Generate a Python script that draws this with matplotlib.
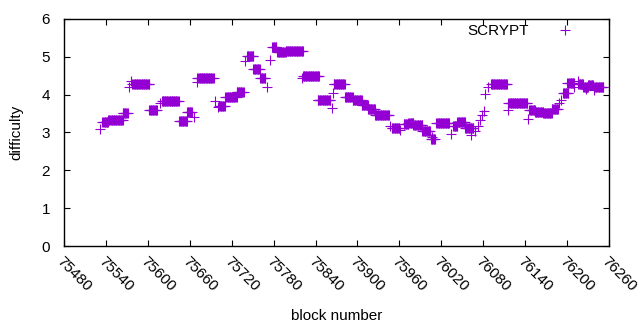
import matplotlib.pyplot as plt
import numpy as np

# constant-difficulty runs: first block, last block, difficulty
seg_start = [75532, 75535, 75543, 75564, 75573, 75576, 75578, 75602, 75617, 75620,
             75645, 75656, 75666, 75670, 75671, 75696, 75701, 75702, 75711, 75727,
             75739, 75742, 75751, 75761, 75771, 75775, 75778, 75785, 75797, 75820,
             75822, 75843, 75863, 75865, 75866, 75882, 75893, 75906, 75915, 75925,
             75947, 75949, 75961, 75966, 75973, 75980, 75993, 76005, 76007, 76013,
             76034, 76037, 76043, 76054, 76063, 76068, 76072, 76076, 76078, 76081,
             76083, 76087, 76091, 76115, 76116, 76144, 76146, 76154, 76166, 76178,
             76189, 76191, 76194, 76200, 76202, 76210, 76215, 76216, 76223, 76227,
             76230, 76238, 76239]
seg_end = [75532, 75543, 75564, 75571, 75573, 75576, 75602, 75613, 75617, 75644,
           75656, 75663, 75666, 75670, 75694, 75696, 75701, 75710, 75727, 75737,
           75739, 75751, 75760, 75768, 75771, 75775, 75784, 75797, 75822, 75820,
           75845, 75861, 75863, 75865, 75882, 75893, 75906, 75915, 75925, 75945,
           75947, 75960, 75961, 75973, 75980, 75993, 76004, 76011, 76007, 76031,
           76034, 76043, 76054, 76066, 76063, 76068, 76072, 76076, 76078, 76081,
           76083, 76087, 76114, 76115, 76143, 76144, 76154, 76166, 76178, 76187,
           76189, 76191, 76202, 76200, 76210, 76210, 76215, 76223, 76230, 76227,
           76237, 76238, 76252]
seg_value = [3.08, 3.27, 3.32, 3.51, 4.19, 4.37, 4.27, 3.59, 3.77, 3.82,
             3.30, 3.53, 3.40, 4.33, 4.43, 3.83, 3.67, 3.71, 3.93, 4.08,
             4.88, 5.01, 4.67, 4.43, 4.19, 4.91, 5.25, 5.12, 5.15, 4.45,
             4.49, 3.85, 3.64, 4.04, 4.27, 3.94, 3.85, 3.72, 3.61, 3.45,
             3.17, 3.11, 3.07, 3.22, 3.24, 3.19, 3.03, 2.82, 2.87, 3.24,
             2.96, 3.18, 3.27, 3.11, 2.93, 3.05, 3.17, 3.33, 3.46, 3.57,
             4.01, 4.19, 4.27, 3.60, 3.77, 3.36, 3.60, 3.53, 3.51, 3.63,
             3.79, 3.85, 4.04, 4.30, 4.30, 4.19, 4.37, 4.28, 4.19, 4.14,
             4.26, 4.11, 4.21]

x_ticks = list(range(75480, 76261, 60))

blocks = np.concatenate([np.arange(s, e + 1) for s, e in zip(seg_start, seg_end)])
values = np.concatenate([np.full(e - s + 1, v) for s, e, v in zip(seg_start, seg_end, seg_value)])

plt.rcParams["font.family"] = ["Liberation Sans", "DejaVu Sans"]

fig = plt.figure(figsize=(6.4, 3.3), dpi=100)
ax = fig.add_axes([0.1, 0.2545, 0.8516, 0.688])

ax.plot(blocks, values, linestyle="none", marker="+", markersize=6.5,
        markeredgewidth=0.8, color="#9400d3", label="SCRYPT")

ax.set_xlim(75480, 76260)
ax.set_ylim(0, 6)
ax.set_xticks(x_ticks)
ax.set_yticks(range(0, 7))
ax.tick_params(direction="in", top=True, right=True, length=4, width=0.8,
               labelsize=11)
ax.tick_params(axis="y", pad=10)
ax.tick_params(axis="x", pad=6)
for spine in ax.spines.values():
    spine.set_linewidth(1.0)

for lbl in ax.get_xticklabels():
    lbl.set_rotation(-45)
    lbl.set_ha("left")
    lbl.set_va("top")
    lbl.set_rotation_mode("anchor")

ax.set_xlabel("block number", fontsize=11, labelpad=11)
ax.set_ylabel("difficulty", fontsize=11, labelpad=13)

ax.legend(loc="upper right", frameon=False, markerfirst=False, fontsize=11,
          handlelength=2.5, handletextpad=1.1, borderaxespad=0,
          bbox_to_anchor=(0.965, 1.005))

fig.savefig("out.png", dpi=100)
